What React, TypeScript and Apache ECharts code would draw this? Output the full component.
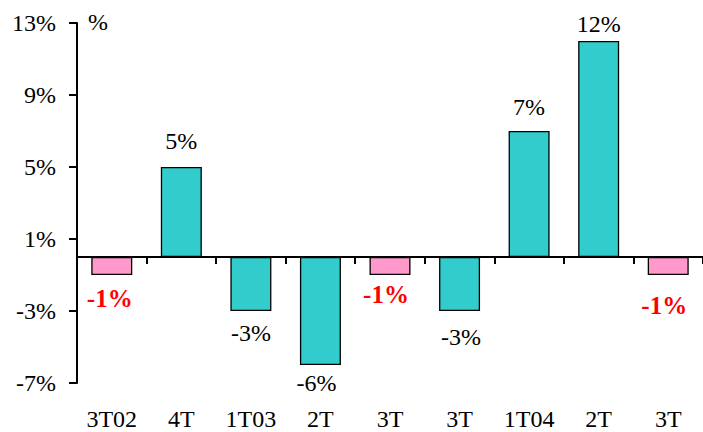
import React, { useEffect, useRef } from "react";
import * as echarts from "echarts";

// ---- data ----
const categories = ["3T02", "4T", "1T03", "2T", "3T", "3T", "1T04", "2T", "3T"];
const values = [-1, 5, -3, -6, -1, -3, 7, 12, -1];
const flagged = [true, false, false, false, true, false, false, false, true];
const axisMin = -7;
const axisMax = 13;
const axisStep = 4;
const unitLabel = "%";

// ---- layout tweaks for value labels (distance of label centre from bar end, x shift) ----
const labelGap = [23, 26, 22, 18, 19, 26, 24, 17, 30];
const labelShiftX = [-2, 0, 0, -4, -4, 1.5, 0, 0, -4];

const FONT = "'Liberation Serif', 'Times New Roman', Times, serif";
const FS = 24;
const CYAN = "#33CCCC";
const PINK = "#FF99CC";
const RED = "#FF0000";

export default function App() {
  const ref = useRef<HTMLDivElement>(null);

  useEffect(() => {
    if (!ref.current) return;
    const chart = echarts.init(ref.current, null, { renderer: "svg" });

    const data = values.map((v, i) => {
      const isFlag = flagged[i];
      return {
        value: v,
        itemStyle: { color: isFlag ? PINK : CYAN },
        label: {
          show: true,
          position: v >= 0 ? "top" : "bottom",
          distance: labelGap[i],
          offset: [labelShiftX[i], 0],
          verticalAlign: "middle",
          color: isFlag ? RED : "#000",
          fontWeight: isFlag ? "bold" : "normal",
          fontSize: isFlag ? 25 : FS,
          fontFamily: FONT,
          formatter: (p: any) => `${p.value}%`,
        },
      };
    });

    chart.setOption({
      animation: false,
      backgroundColor: "#fff",
      grid: { left: 77, top: 23, width: 631, height: 360, containLabel: false },
      xAxis: [
        {
          type: "category",
          data: categories,
          boundaryGap: true,
          axisLine: { show: true, onZero: true, onZeroAxisIndex: 0, lineStyle: { color: "#000", width: 2 } },
          axisTick: { show: true, interval: 0, length: 7, inside: false, lineStyle: { color: "#000", width: 2 } },
          axisLabel: { show: false },
          splitLine: { show: false },
        },
        {
          type: "category",
          data: categories,
          position: "bottom",
          boundaryGap: true,
          axisLine: { show: false, onZero: false },
          axisTick: { show: false },
          axisLabel: { show: true, interval: 0, margin: 24, color: "#000", fontSize: FS, fontFamily: FONT },
          splitLine: { show: false },
        },
      ],
      yAxis: [
        {
          type: "value",
          min: axisMin,
          max: axisMax,
          show: false,
          splitLine: { show: false },
        },
        {
          type: "value",
          min: 0,
          max: axisMax - axisMin,
          interval: axisStep,
          position: "left",
          axisLine: { show: true, onZero: false, lineStyle: { color: "#000", width: 2 } },
          axisTick: { show: true, length: 8, inside: false, lineStyle: { color: "#000", width: 2 } },
          axisLabel: {
            show: true,
            margin: 21,
            color: "#000",
            fontSize: FS,
            fontFamily: FONT,
            formatter: (v: number) => `${v + axisMin}%`,
          },
          splitLine: { show: false },
        },
      ],
      graphic: [
        {
          type: "text",
          x: 88,
          y: 22,
          style: {
            text: unitLabel,
            fontSize: FS,
            fontFamily: FONT,
            fill: "#000",
            align: "left",
            verticalAlign: "middle",
          },
        },
      ],
      series: [
        {
          type: "bar",
          xAxisIndex: 0,
          yAxisIndex: 0,
          barWidth: 41,
          data,
          itemStyle: { borderColor: "#000", borderWidth: 1.3 },
        },
      ],
    });

    return () => chart.dispose();
  }, []);

  return (
    <div
      ref={ref}
      style={{ position: "absolute", left: 0, top: 0, width: 703, height: 432, background: "#fff" }}
    />
  );
}
